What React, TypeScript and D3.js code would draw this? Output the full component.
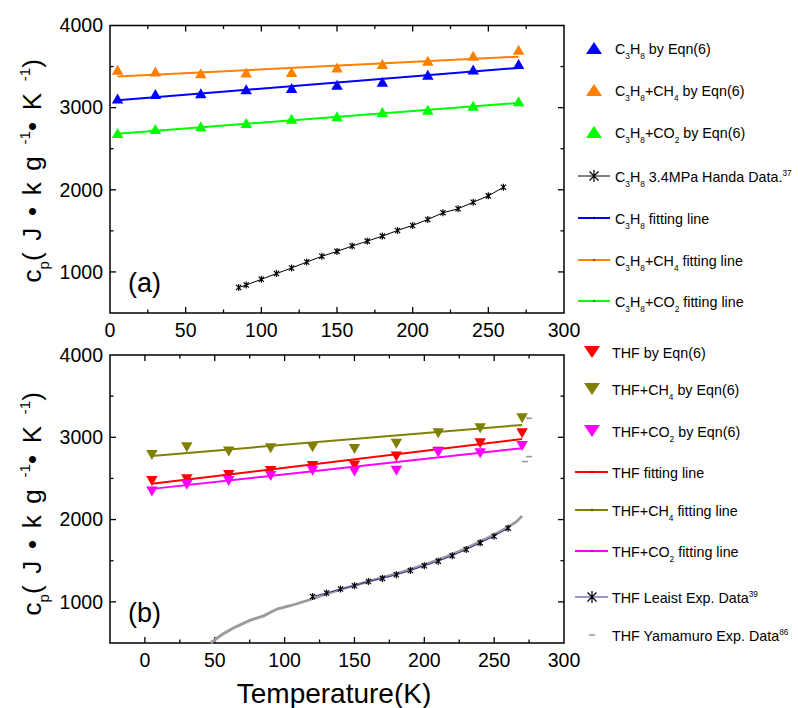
import React, { useEffect, useRef } from "react";
import * as d3 from "d3";

// panel (a): C3H8 hydrates
const tempEqn = [5, 30, 60, 90, 120, 150, 180, 210, 240, 270];
const c3h8Eqn = [3110, 3165, 3175, 3225, 3240, 3280, 3315, 3400, 3465, 3530];
const c3h8ch4Eqn = [3460, 3440, 3420, 3428, 3433, 3489, 3530, 3570, 3631, 3704];
const c3h8co2Eqn = [2691, 2740, 2772, 2813, 2866, 2894, 2947, 2975, 3024, 3077];

const fitT = [5, 270];
const c3h8Fit = [3091, 3484];
const c3h8ch4Fit = [3378, 3621];
const c3h8co2Fit = [2683, 3057];

const handaT = [85, 90, 100, 110, 120, 130, 140, 150, 160, 170, 180, 190, 200, 210, 220, 230, 240, 250, 260];
const handaCp = [810, 841, 910, 980, 1048, 1120, 1190, 1250, 1315, 1375, 1436, 1505, 1566, 1639, 1720, 1769, 1849, 1926, 2031];

// panel (b): THF hydrates
const thfEqn = [2470, 2491, 2543, 2590, 2652, 2656, 2765, 2825, 2928, 3049];
const thfch4Eqn = [2786, 2879, 2826, 2867, 2879, 2859, 2920, 3049, 3110, 3231];
const thfco2Eqn = [2341, 2422, 2470, 2531, 2592, 2583, 2592, 2814, 2806, 2895];

const thfFit = [2434, 2980];
const thfch4Fit = [2774, 3150];
const thfco2Fit = [2373, 2867];

const leaistT = [120, 130, 140, 150, 160, 170, 180, 190, 200, 210, 220, 230, 240, 250, 260];
const leaistCp = [1066, 1107, 1156, 1196, 1248, 1285, 1329, 1381, 1438, 1495, 1560, 1636, 1717, 1798, 1896];

const yamamuroT = [47, 55, 63, 75, 85, 90, 95, 104, 118, 130, 140, 150, 160, 170, 180, 190, 200, 210, 220, 230, 240, 250, 260, 266, 270];
const yamamuroCp = [500, 600, 680, 775, 830, 875, 915, 953, 1026, 1095, 1150, 1200, 1250, 1295, 1342, 1395, 1452, 1512, 1578, 1652, 1733, 1815, 1910, 1975, 2045];
const yamamuroHiT = [275, 275, 272];
const yamamuroHiCp = [3231, 2765, 2705];

const xTicks = [0, 50, 100, 150, 200, 250, 300];
const yTicks = [1000, 2000, 3000, 4000];

const legendA = [
  "C_{3}H_{8} by Eqn(6)",
  "C_{3}H_{8}+CH_{4} by Eqn(6)",
  "C_{3}H_{8}+CO_{2} by Eqn(6)",
  "C_{3}H_{8} 3.4MPa Handa Data.^{37}",
  "C_{3}H_{8} fitting line",
  "C_{3}H_{8}+CH_{4} fitting line",
  "C_{3}H_{8}+CO_{2} fitting line",
];
const legendB = [
  "THF by Eqn(6)",
  "THF+CH_{4} by Eqn(6)",
  "THF+CO_{2} by Eqn(6)",
  "THF fitting line",
  "THF+CH_{4} fitting line",
  "THF+CO_{2} fitting line",
  "THF Leaist Exp. Data^{39}",
  "THF Yamamuro Exp. Data^{86}",
];

const FONT = "'Liberation Sans', Arial, sans-serif";

// plain text with _{sub} and ^{sup} pieces
function richText(sel: any, label: string, size: number) {
  const re = /([_^])\{([^}]*)\}/g;
  let last = 0;
  let shift = 0;
  let m: RegExpExecArray | null;
  while ((m = re.exec(label))) {
    if (m.index > last) {
      sel.append("tspan").attr("class", "main").attr("dy", -shift).text(label.slice(last, m.index));
      shift = 0;
    }
    const d = m[1] === "_" ? size * 0.32 : -size * 0.42;
    sel.append("tspan").attr("font-size", size * 0.58).attr("dy", d - shift).text(m[2]);
    shift = d;
    last = re.lastIndex;
  }
  if (last < label.length) sel.append("tspan").attr("class", "main").attr("dy", -shift).text(label.slice(last));
}

const tri = (w: number, h: number, down: boolean) =>
  down
    ? `M${-w / 2},${-h / 2}L${w / 2},${-h / 2}L0,${h / 2}Z`
    : `M0,${-h / 2}L${w / 2},${h / 2}L${-w / 2},${h / 2}Z`;

const star = (r: number) => {
  const q = r * 0.75;
  return `M0,${-r}V${r}M${-q},${-q}L${q},${q}M${-q},${q}L${q},${-q}`;
};

const App = () => {
  const svgRef = useRef<SVGSVGElement>(null);

  useEffect(() => {
    const svg = d3.select(svgRef.current);
    svg.selectAll("*").remove();
    svg.append("rect").attr("width", 798).attr("height", 708).attr("fill", "#fff");

    const left = 110, right = 564;

    function panel(top: number, bottom: number, xDomain: number[], tag: string, labelY: number) {
      const x = d3.scaleLinear().domain(xDomain).range([left, right]);
      const y = d3.scaleLinear().domain([500, 4000]).range([bottom, top]);
      const g = svg.append("g");

      // ticks point inward on all four sides
      const xMinor = d3.range(xDomain[0], 300.1, 25).filter((v) => v > xDomain[0] && v < 300 && v % 50 !== 0);
      const yMinor = [1500, 2500, 3500];
      const tk = g.append("g").attr("stroke", "#000").attr("stroke-width", 1.3);
      xTicks.filter((v) => v > xDomain[0] && v < 300).forEach((v) => {
        tk.append("line").attr("x1", x(v)).attr("x2", x(v)).attr("y1", bottom).attr("y2", bottom - 6);
        tk.append("line").attr("x1", x(v)).attr("x2", x(v)).attr("y1", top).attr("y2", top + 6);
      });
      xMinor.forEach((v) => {
        tk.append("line").attr("x1", x(v)).attr("x2", x(v)).attr("y1", bottom).attr("y2", bottom - 3.5);
        tk.append("line").attr("x1", x(v)).attr("x2", x(v)).attr("y1", top).attr("y2", top + 3.5);
      });
      yTicks.filter((v) => v < 4000).forEach((v) => {
        tk.append("line").attr("x1", left).attr("x2", left + 6).attr("y1", y(v)).attr("y2", y(v));
        tk.append("line").attr("x1", right).attr("x2", right - 6).attr("y1", y(v)).attr("y2", y(v));
      });
      yMinor.forEach((v) => {
        tk.append("line").attr("x1", left).attr("x2", left + 3.5).attr("y1", y(v)).attr("y2", y(v));
        tk.append("line").attr("x1", right).attr("x2", right - 3.5).attr("y1", y(v)).attr("y2", y(v));
      });
      g.append("rect")
        .attr("x", left).attr("y", top)
        .attr("width", right - left).attr("height", bottom - top)
        .attr("fill", "none").attr("stroke", "#000").attr("stroke-width", 1.5);

      g.append("g").selectAll("text").data(xTicks).join("text")
        .attr("x", (d) => x(d)).attr("y", bottom + 24)
        .attr("text-anchor", "middle").attr("font-size", 19.5).attr("font-family", FONT)
        .text((d) => d);
      g.append("g").selectAll("text").data(yTicks).join("text")
        .attr("x", left - 7).attr("y", (d) => y(d)).attr("dy", "0.35em")
        .attr("text-anchor", "end").attr("font-size", 19.5).attr("font-family", FONT)
        .text((d) => d);

      const yl = g.append("text")
        .attr("transform", `translate(41,${labelY}) rotate(-90)`)
        .attr("text-anchor", "middle").attr("font-size", 26).attr("font-family", FONT);
      richText(yl, "c_{p}(J•kg^{-1}•K^{-1})", 26);
      // the original label is spread out along most of the panel height;
      // spread the plain parts after "c" only
      const node = yl.node() as SVGTextElement;
      const natural = node.getComputedTextLength();
      const mains = yl.selectAll("tspan.main").filter((_: any, i: number) => i > 0);
      let count = 0;
      mains.each(function () { count += ((this as Element).textContent || "").length; });
      mains.attr("letter-spacing", Math.max(0, (235 - natural) / count));

      g.append("text").attr("x", left + 18).attr("y", bottom - 21)
        .attr("font-size", 27).attr("font-family", FONT).text(tag);

      return { g, x, y };
    }

    const lineGen = (x: any, y: any) =>
      d3.line<[number, number]>().x((d) => x(d[0])).y((d) => y(d[1]));
    const zip = (a: number[], b: number[]) => a.map((v, i) => [v, b[i]] as [number, number]);

    // ---------- panel (a)
    const A = panel(25.5, 313, [0, 300], "(a)", 165);
    const la = lineGen(A.x, A.y);
    A.g.append("path").attr("d", la(zip(handaT, handaCp))).attr("fill", "none").attr("stroke", "#000").attr("stroke-width", 1);
    A.g.append("g").selectAll("path").data(zip(handaT, handaCp)).join("path")
      .attr("transform", (d) => `translate(${A.x(d[0])},${A.y(d[1])})`)
      .attr("d", star(3.5)).attr("stroke", "#000").attr("stroke-width", 1.2).attr("fill", "none");

    const seriesA = [
      { vals: c3h8Eqn, fit: c3h8Fit, color: "#0000ff" },
      { vals: c3h8ch4Eqn, fit: c3h8ch4Fit, color: "#ff8000" },
      { vals: c3h8co2Eqn, fit: c3h8co2Fit, color: "#00ff00" },
    ];
    seriesA.forEach((s) => {
      A.g.append("path").attr("d", la(zip(fitT, s.fit))).attr("stroke", s.color).attr("stroke-width", 2).attr("fill", "none");
      A.g.append("g").selectAll("path").data(zip(tempEqn, s.vals)).join("path")
        .attr("transform", (d) => `translate(${A.x(d[0])},${A.y(d[1])})`)
        .attr("d", tri(11.5, 10, false)).attr("fill", s.color);
    });

    // ---------- panel (b)
    const B = panel(355, 643, [-25, 300], "(b)", 498);
    const lb = lineGen(B.x, B.y);
    B.g.append("path").attr("d", lb(zip(yamamuroT, yamamuroCp))).attr("fill", "none").attr("stroke", "#9a9a9a").attr("stroke-width", 2.8);
    B.g.append("g").selectAll("line").data(zip(yamamuroHiT, yamamuroHiCp)).join("line")
      .attr("x1", (d) => B.x(d[0]) - 3).attr("x2", (d) => B.x(d[0]) + 3)
      .attr("y1", (d) => B.y(d[1])).attr("y2", (d) => B.y(d[1]))
      .attr("stroke", "#9a9a9a").attr("stroke-width", 1.6);
    B.g.append("path").attr("d", lb(zip(leaistT, leaistCp))).attr("fill", "none").attr("stroke", "#333399").attr("stroke-width", 1);
    B.g.append("g").selectAll("path").data(zip(leaistT, leaistCp)).join("path")
      .attr("transform", (d) => `translate(${B.x(d[0])},${B.y(d[1])})`)
      .attr("d", star(3.5)).attr("stroke", "#000").attr("stroke-width", 1.2).attr("fill", "none");

    const seriesB = [
      { vals: thfch4Eqn, fit: thfch4Fit, color: "#808000" },
      { vals: thfEqn, fit: thfFit, color: "#ff0000" },
      { vals: thfco2Eqn, fit: thfco2Fit, color: "#ff00ff" },
    ];
    seriesB.forEach((s) => {
      B.g.append("path").attr("d", lb(zip(fitT, s.fit))).attr("stroke", s.color).attr("stroke-width", 2).attr("fill", "none");
    });
    seriesB.forEach((s) => {
      B.g.append("g").selectAll("path").data(zip(tempEqn, s.vals)).join("path")
        .attr("transform", (d) => `translate(${B.x(d[0])},${B.y(d[1])})`)
        .attr("d", tri(11.5, 10, true)).attr("fill", s.color);
    });

    // ---------- legends
    function legend(items: { label: string; kind: string; color: string; base: number }[], mx: number, x0: number, x1: number, tx: number) {
      const lg = svg.append("g").attr("font-family", FONT);
      items.forEach((it) => {
        const cy = it.base - 6;
        if (it.kind === "up" || it.kind === "down") {
          lg.append("path").attr("transform", `translate(${mx},${cy})`).attr("d", tri(16, 12, it.kind === "down")).attr("fill", it.color);
        } else if (it.kind === "fit") {
          lg.append("line").attr("x1", x0).attr("x2", x1).attr("y1", cy).attr("y2", cy).attr("stroke", it.color).attr("stroke-width", 2);
          lg.append("circle").attr("cx", mx).attr("cy", cy).attr("r", 1.3).attr("fill", d3.color(it.color)!.darker(1).toString());
        } else if (it.kind === "star") {
          lg.append("line").attr("x1", x0).attr("x2", x1).attr("y1", cy).attr("y2", cy).attr("stroke", it.color).attr("stroke-width", 1);
          lg.append("path").attr("transform", `translate(${mx},${cy})`).attr("d", star(6)).attr("stroke", "#000").attr("stroke-width", 1.2);
        } else if (it.kind === "dash") {
          lg.append("line").attr("x1", mx - 3).attr("x2", mx + 3).attr("y1", cy).attr("y2", cy).attr("stroke", it.color).attr("stroke-width", 1.6);
        }
        const t = lg.append("text").attr("x", tx).attr("y", it.base).attr("font-size", 14.3);
        richText(t, it.label, 14.3);
      });
    }

    const basesA = [54, 96, 138, 182, 224, 266, 307];
    const kindsA = ["up", "up", "up", "star", "fit", "fit", "fit"];
    const colorsA = ["#0000ff", "#ff8000", "#00ff00", "#000", "#0000ff", "#ff8000", "#00ff00"];
    legend(legendA.map((l, i) => ({ label: l, kind: kindsA[i], color: colorsA[i], base: basesA[i] })), 594, 578, 610, 615);

    const basesB = [358, 395, 437, 478, 516, 557, 603, 641];
    const kindsB = ["down", "down", "down", "fit", "fit", "fit", "star", "dash"];
    const colorsB = ["#ff0000", "#808000", "#ff00ff", "#ff0000", "#808000", "#ff00ff", "#333399", "#9a9a9a"];
    legend(legendB.map((l, i) => ({ label: l, kind: kindsB[i], color: colorsB[i], base: basesB[i] })), 592, 575, 608, 612);

    svg.append("text").attr("x", 334).attr("y", 703).attr("text-anchor", "middle")
      .attr("font-size", 28).attr("font-family", FONT).text("Temperature(K)");
  }, []);

  return <svg ref={svgRef} width={798} height={708} style={{ position: "absolute", left: 0, top: 0 }} />;
};

export default App;
